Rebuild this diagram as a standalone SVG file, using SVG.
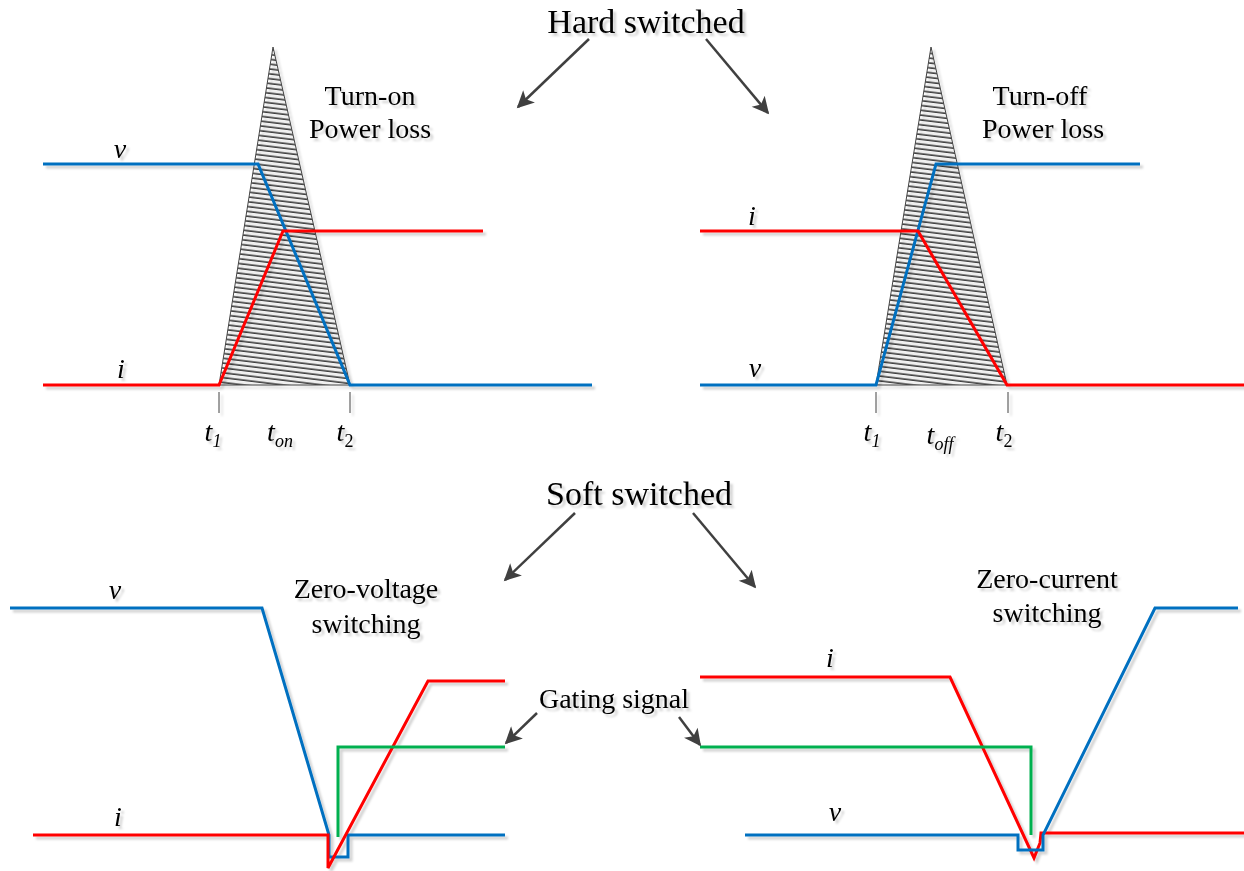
<svg xmlns="http://www.w3.org/2000/svg" width="1244" height="871" viewBox="0 0 1244 871">
<style>
text{font-family:"Liberation Serif","Times New Roman",serif;fill:#000}
.big{font-size:34px;text-anchor:middle}
.mid{font-size:28px;text-anchor:middle}
.var{font-size:28px;font-style:italic;text-anchor:middle}
.t{font-size:28px;font-style:italic;text-anchor:middle}
.sub{font-size:18px}
.blue{fill:none;stroke:#0070c0;stroke-width:3}
.red{fill:none;stroke:#ff0000;stroke-width:3}
.green{fill:none;stroke:#00b050;stroke-width:3}
.tri{fill:url(#hatch);stroke:#444;stroke-width:1}
.tick{stroke:#444;stroke-width:1}
.arr{stroke:#404040;stroke-width:2.5;fill:none;marker-end:url(#ah)}
</style>
<defs>
<pattern id="hatch" patternUnits="userSpaceOnUse" width="40" height="4.8" patternTransform="rotate(7)">
<line x1="0" y1="2" x2="40" y2="2" stroke="#000" stroke-width="1.1"/>
</pattern>
<marker id="ah" viewBox="0 0 10 10" refX="9" refY="5" markerWidth="20" markerHeight="17" markerUnits="userSpaceOnUse" orient="auto">
<path d="M0,0 L10,5 L0,10 L2.5,5 z" fill="#404040"/>
</marker>
<filter id="sh" x="-10%" y="-10%" width="120%" height="120%">
<feDropShadow dx="3" dy="3" stdDeviation="1" flood-color="#000" flood-opacity="0.18"/>
</filter>
</defs>

<g id="titles" filter="url(#sh)">
<text class="big" x="646" y="33">Hard switched</text>
<text class="big" x="639" y="505">Soft switched</text>
<text class="mid" x="614" y="708">Gating signal</text>
</g>

<g id="turn-on" filter="url(#sh)">
<polygon class="tri" points="273,47 219,385 350,385"/>
<polyline class="blue" points="43,164 258,164 350,385 592,385"/>
<polyline class="red" points="43,385 219,385 283,231 483,231"/>
<line class="tick" x1="219" y1="392" x2="219" y2="413"/>
<line class="tick" x1="350" y1="392" x2="350" y2="413"/>
<text class="var" x="120" y="158">v</text>
<text class="var" x="121" y="378">i</text>
<text class="t" x="213" y="441">t<tspan class="sub" dy="6">1</tspan></text>
<text class="t" x="280" y="441">t<tspan class="sub" dy="6">on</tspan></text>
<text class="t" x="345" y="441">t<tspan class="sub" dy="6" font-style="normal">2</tspan></text>
<text class="mid" x="370" y="105">Turn-on</text>
<text class="mid" x="370" y="138">Power loss</text>
</g>

<g id="turn-off" filter="url(#sh)">
<polygon class="tri" points="931,47 876,385 1007,385"/>
<polyline class="blue" points="700,385 876,385 936,164 1140,164"/>
<polyline class="red" points="700,231 918,231 1007,385 1244,385"/>
<line class="tick" x1="876" y1="392" x2="876" y2="413"/>
<line class="tick" x1="1008" y1="392" x2="1008" y2="413"/>
<text class="var" x="752" y="225">i</text>
<text class="var" x="755" y="377">v</text>
<text class="t" x="872" y="441">t<tspan class="sub" dy="6">1</tspan></text>
<text class="t" x="940" y="444">t<tspan class="sub" dy="6">off</tspan></text>
<text class="t" x="1004" y="441">t<tspan class="sub" dy="6" font-style="normal">2</tspan></text>
<text class="mid" x="1040" y="105">Turn-off</text>
<text class="mid" x="1043" y="138">Power loss</text>
</g>

<g id="zvs" filter="url(#sh)">
<polyline class="blue" points="10,608 262,608 329,835 329,857 348,857 348,835 505,835"/>
<polyline class="red" points="33,835 328,835 328,868 428,681 505,681"/>
<polyline class="green" points="338,837 338,747 505,747"/>
<text class="var" x="115" y="599">v</text>
<text class="var" x="118" y="826">i</text>
<text class="mid" x="366" y="598">Zero-voltage</text>
<text class="mid" x="366" y="633">switching</text>
</g>

<g id="zcs" filter="url(#sh)">
<polyline class="red" points="700,677 950,677 1034,858 1040,843 1041,833 1244,833"/>
<polyline class="blue" points="745,835 1018,835 1018,850 1043,850 1043,835 1155,608 1238,608"/>
<polyline class="green" points="1031,835 1031,747 700,747"/>
<text class="var" x="830" y="667">i</text>
<text class="var" x="835" y="821">v</text>
<text class="mid" x="1047" y="588">Zero-current</text>
<text class="mid" x="1047" y="622">switching</text>
</g>

<g id="connectors">
<line class="arr" x1="589" y1="39" x2="518" y2="107"/>
<line class="arr" x1="706" y1="39" x2="768" y2="113"/>
<line class="arr" x1="575" y1="513" x2="505" y2="580"/>
<line class="arr" x1="693" y1="513" x2="755" y2="587"/>
<line class="arr" x1="537" y1="713" x2="506" y2="743"/>
<line class="arr" x1="679" y1="717" x2="700" y2="745"/>
</g>
</svg>
